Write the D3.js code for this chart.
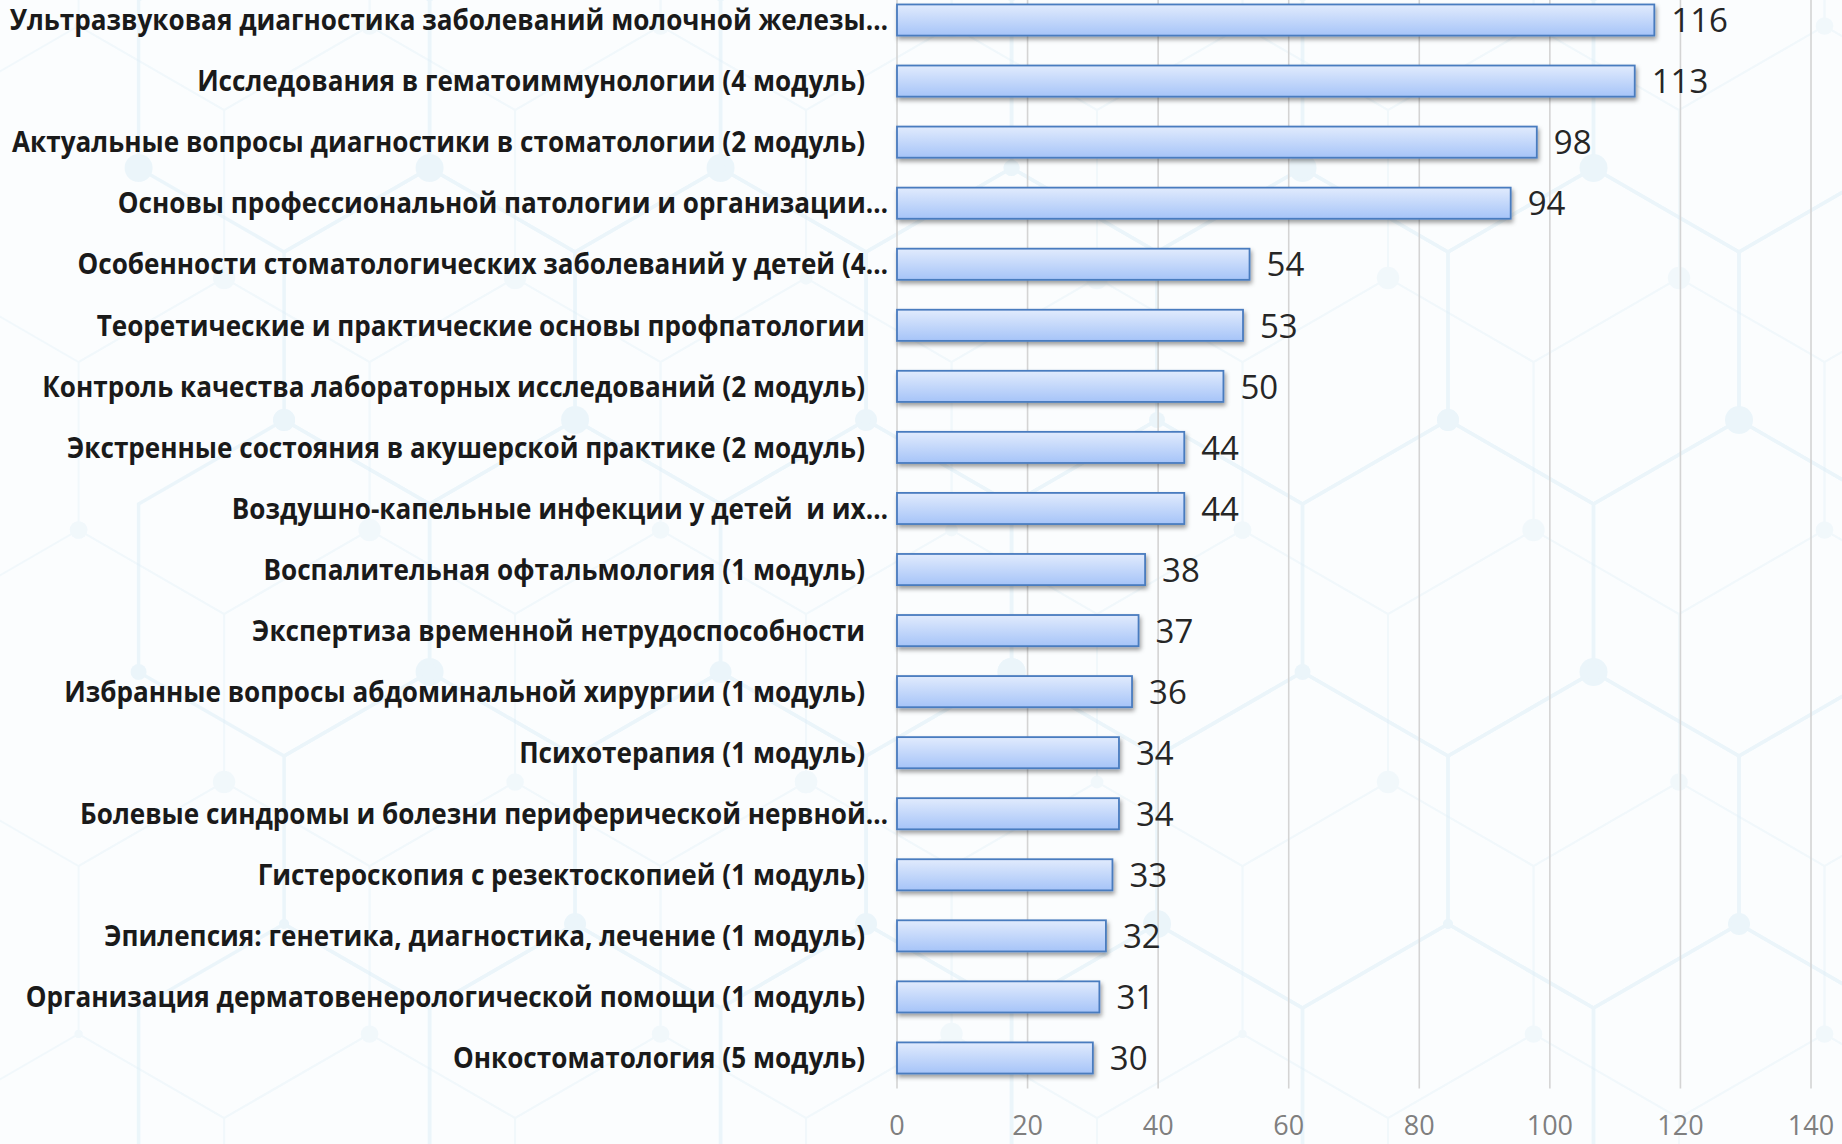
<!DOCTYPE html>
<html>
<head>
<meta charset="utf-8">
<script src="https://cdn.jsdelivr.net/npm/d3@7"></script>
<style>
  html, body { margin: 0; padding: 0; background: #fbfdfe; }
  svg { display: block; }
  text { white-space: pre; }
</style>
</head>
<body>
<svg id="chart" width="1842" height="1144"></svg>
<script>
const categories = [
  "Ультразвуковая диагностика заболеваний молочной железы…",
  "Исследования в гематоиммунологии (4 модуль)",
  "Актуальные вопросы диагностики в стоматологии (2 модуль)",
  "Основы профессиональной патологии и организации…",
  "Особенности стоматологических заболеваний у детей (4…",
  "Теоретические и практические основы профпатологии",
  "Контроль качества лабораторных исследований (2 модуль)",
  "Экстренные состояния в акушерской практике (2 модуль)",
  "Воздушно-капельные инфекции у детей  и их…",
  "Воспалительная офтальмология (1 модуль)",
  "Экспертиза временной нетрудоспособности",
  "Избранные вопросы абдоминальной хирургии (1 модуль)",
  "Психотерапия (1 модуль)",
  "Болевые синдромы и болезни периферической нервной…",
  "Гистероскопия с резектоскопией (1 модуль)",
  "Эпилепсия: генетика, диагностика, лечение (1 модуль)",
  "Организация дерматовенерологической помощи (1 модуль)",
  "Онкостоматология (5 модуль)",
];
const values = [116, 113, 98, 94, 54, 53, 50, 44, 44, 38, 37, 36, 34, 34, 33, 32, 31, 30];
const xTicks = [0, 20, 40, 60, 80, 100, 120, 140];

const width = 1842;
const height = 1144;
const plot = { left: 897, right: 1811, top: -10.5, bottom: 1088.5 };

const svg = d3.select("#chart");

// faint molecular hexagon backdrop
function drawBackdrop(g, side, ox, oy, stroke, strokeWidth, opacity, nodeScale) {
  const w = Math.sqrt(3) * side;
  const layer = g.append("g").attr("opacity", opacity);
  const verts = [];
  for (let r = -2; r < 10; r++) {
    for (let c = -2; c < 9; c++) {
      const cx = ox + c * w + (r % 2 ? w / 2 : 0);
      const cy = oy + r * 1.5 * side;
      const pts = d3.range(6).map(k => {
        const a = Math.PI / 180 * (60 * k - 90);
        return [cx + side * Math.cos(a), cy + side * Math.sin(a)];
      });
      layer.append("path")
        .attr("d", d3.line()(pts) + "Z")
        .attr("fill", "none")
        .attr("stroke", stroke)
        .attr("stroke-width", strokeWidth);
      verts.push({ x: pts[0][0], y: pts[0][1], k: (r * 3 + c * 5 + 20) % 4 });
      verts.push({ x: pts[4][0], y: pts[4][1], k: (r * 7 + c * 2 + 21) % 4 });
    }
  }
  layer.selectAll("circle.node").data(verts).enter()
    .append("circle")
    .attr("cx", d => d.x)
    .attr("cy", d => d.y)
    .attr("r", d => [5, 8, 11, 14][d.k] * nodeScale)
    .attr("fill", stroke);
}

const bg = svg.append("g");
bg.append("rect").attr("width", width).attr("height", height).attr("fill", "#fbfdfe");
drawBackdrop(bg, 168, 1739 - Math.sqrt(3) * 168 * 3, 840 - 1.5 * 168 * 5, "#d2e9f5", 3.5, 0.38, 1);
drawBackdrop(bg, 168, 1739 - Math.sqrt(3) * 168 * 3.5 - 60, 840 - 1.5 * 168 * 5 + 110, "#dcedf7", 2, 0.3, 0.8);

const defs = svg.append("defs");
const grad = defs.append("linearGradient")
  .attr("id", "barFill")
  .attr("x1", 0).attr("y1", 0).attr("x2", 0).attr("y2", 1);
grad.append("stop").attr("offset", "0%").attr("stop-color", "#e1ebfd");
grad.append("stop").attr("offset", "100%").attr("stop-color", "#a6c4f8");

const shadow = defs.append("filter")
  .attr("id", "barShadow")
  .attr("x", "-5%").attr("y", "-30%").attr("width", "115%").attr("height", "180%");
shadow.append("feDropShadow")
  .attr("dx", 1.5).attr("dy", 3)
  .attr("stdDeviation", 2)
  .attr("flood-color", "#000")
  .attr("flood-opacity", 0.38);

const x = d3.scaleLinear()
  .domain([0, 140])
  .range([plot.left, plot.right]);

const y = d3.scaleBand()
  .domain(categories)
  .range([plot.top, plot.bottom])
  .paddingInner(0.49)
  .paddingOuter(0.245);

// gridlines
svg.append("g")
  .selectAll("line")
  .data(xTicks)
  .enter()
  .append("line")
  .attr("x1", d => x(d))
  .attr("x2", d => x(d))
  .attr("y1", 0)
  .attr("y2", plot.bottom)
  .attr("stroke", "#d4d4d4")
  .attr("stroke-width", 1.6);

// x tick labels
svg.append("g")
  .selectAll("text")
  .data(xTicks)
  .enter()
  .append("text")
  .text(d => d)
  .attr("x", d => x(d))
  .attr("y", 1135)
  .attr("text-anchor", "middle")
  .attr("fill", "#7f7f7f")
  .style("font-family", "'Open Sans', sans-serif")
  .style("font-size", "27px");

// bars
svg.append("g")
  .attr("filter", "url(#barShadow)")
  .selectAll("rect")
  .data(values)
  .enter()
  .append("rect")
  .attr("x", x(0))
  .attr("y", (d, i) => y(categories[i]))
  .attr("width", d => x(d) - x(0))
  .attr("height", y.bandwidth())
  .attr("fill", "url(#barFill)")
  .attr("stroke", "#4a7cbf")
  .attr("stroke-width", 1.8);

// value labels
svg.append("g")
  .selectAll("text")
  .data(values)
  .enter()
  .append("text")
  .text(d => d)
  .attr("x", d => x(d) + 17)
  .attr("y", (d, i) => y(categories[i]) + y.bandwidth() / 2)
  .attr("dy", "0.37em")
  .attr("fill", "#262626")
  .style("font-family", "'Open Sans', sans-serif")
  .style("font-size", "33px");

// category labels, squeezed horizontally to fit the left margin like the narrow original face
const labelRight = 865;
const labelG = svg.append("g");
const labels = labelG.selectAll("text")
  .data(categories)
  .enter()
  .append("text")
  .text(d => d)
  .attr("x", d => d.endsWith("…") ? 23 : 0)
  .attr("y", d => y(d) + y.bandwidth() / 2)
  .attr("dy", "0.36em")
  .attr("text-anchor", "end")
  .attr("fill", "#1a1a1a")
  .style("font-family", "'Open Sans', sans-serif")
  .style("font-weight", "bold")
  .style("font-size", "28.5px");

let maxW = 0;
labels.each(function (d) {
  if (!d.endsWith("…")) maxW = Math.max(maxW, this.getComputedTextLength());
});
const sx = Math.min(1, 853 / maxW);
labels.attr("x", function (d) { return (d.endsWith("…") ? 23 : 0) / sx; });
labelG.attr("transform", `translate(${labelRight},0) scale(${sx},1)`);
</script>
</body>
</html>
